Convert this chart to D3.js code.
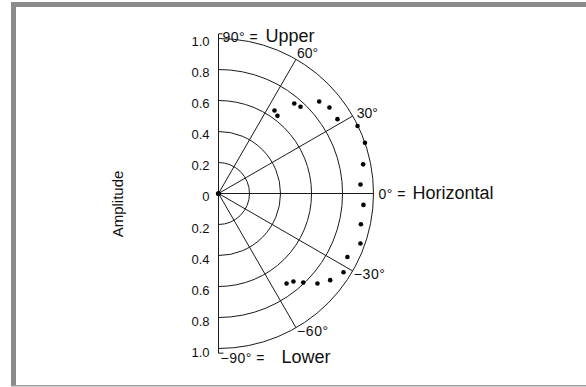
<!DOCTYPE html>
<html>
<head>
<meta charset="utf-8">
<script src="https://cdn.jsdelivr.net/npm/d3@7"></script>
<style>
  body { margin: 0; background: #fff; }
  svg { display: block; font-family: "Liberation Sans", Arial, sans-serif; }
</style>
</head>
<body>
<svg id="chart"></svg>
<script>
// measured directions (deg, +up / -down) and amplitude of each sample
const angleDeg  = [56.0, 52.8, 49.9, 46.6, 42.4, 37.8, 32.0, 25.9, 19.1, 11.4, 3.6,
                   -4.5, -12.2, -19.4, -26.2, -32.2, -37.8, -42.3, -46.4, -49.6, -52.9];
const amplitude = [0.646, 0.629, 0.759, 0.770, 0.880, 0.906, 0.905, 0.997, 1.0, 0.952, 0.918,
                   0.938, 0.940, 0.971, 0.927, 0.953, 0.912, 0.863, 0.793, 0.746, 0.728];

const ringValues = [0.2, 0.4, 0.6, 0.8, 1.0];
const tickValues = [0, 0.2, 0.4, 0.6, 0.8, 1.0];
const tickLabels = ["0", "0.2", "0.4", "0.6", "0.8", "1.0"];
const spokeAngles = [60, 30, -30, -60];
const spokeLabels = ["60°", "30°", "−30°", "−60°"];

const width = 586;
const height = 387;
const cx = 218.5, cy = 193.5;

const svg = d3.select('#chart')
    .attr('width', width)
    .attr('height', height);

// frame
svg.append('rect').attr('x', 11).attr('y', 2).attr('width', width - 11).attr('height', 5).attr('fill', '#8a8a8a');
svg.append('rect').attr('x', 11).attr('y', 2).attr('width', 5).attr('height', 384).attr('fill', '#8a8a8a');
svg.append('rect').attr('x', 11).attr('y', 385).attr('width', width - 11).attr('height', 1.5).attr('fill', '#9a9a9a');

let r = d3.scaleLinear().domain([0, 1]).range([0, 155]);
let rad = d => d * Math.PI / 180;
let px = (a, v) => cx + r(v) * Math.cos(rad(a));
let py = (a, v) => cy - r(v) * Math.sin(rad(a));

const g = svg.append('g')
    .attr('fill', 'none')
    .attr('stroke', '#1a1a1a')
    .attr('stroke-width', 1);

// rings
ringValues.forEach(v => {
    let p = d3.path();
    p.moveTo(cx, cy - r(v));
    p.arc(cx, cy, r(v), -Math.PI / 2, Math.PI / 2);
    g.append('path').attr('d', p.toString());
});

// spokes + horizontal axis
spokeAngles.concat([0]).forEach(a => {
    g.append('line')
        .attr('x1', cx).attr('y1', cy)
        .attr('x2', px(a, 1)).attr('y2', py(a, 1));
});

// vertical axis with small hooks
let axTop = cy - r(1.03), axBot = cy + r(1.03);
g.append('path').attr('d', `M${cx + 4},${axTop}H${cx}V${axBot}H${cx + 5}`);

// tick labels, both halves
const tickG = svg.append('g')
    .attr('font-size', 13)
    .attr('fill', '#111')
    .attr('text-anchor', 'end');
tickValues.forEach((v, i) => {
    tickG.append('text').attr('x', cx - 9).attr('y', cy - r(v) + 7).text(tickLabels[i]);
    if (v > 0) tickG.append('text').attr('x', cx - 9).attr('y', cy + r(v) + 8).text(tickLabels[i]);
});

// spoke labels
spokeAngles.forEach((a, i) => {
    let dx = a > 0 ? (a == 30 ? 4 : 1) : 1;
    let dy = a > 0 ? (a == 30 ? 2 : -1) : 8;
    svg.append('text')
        .attr('x', px(a, 1) + dx)
        .attr('y', py(a, 1) + dy)
        .attr('font-size', 14)
        .attr('fill', '#111')
        .attr('letter-spacing', a < 0 ? 0.6 : 0)
        .text(spokeLabels[i]);
});

// direction names: small "angle =" part then a larger word
function dirLabel(x, xBig, y, small, big) {
    svg.append('text').attr('x', x).attr('y', y).attr('fill', '#111')
        .attr('font-size', 14).attr('letter-spacing', 0.5).text(small);
    svg.append('text').attr('x', xBig).attr('y', y).attr('fill', '#111')
        .attr('font-size', 18).text(big);
}
dirLabel(cx + 4, cx + 47, cy - r(1) + 3, "90° =", "Upper");
dirLabel(px(0, 1) + 5, px(0, 1) + 39, cy + 5, "0° =", "Horizontal");
dirLabel(cx + 2, cx + 63, cy + r(1) + 14, "−90° =", "Lower");

// axis title
svg.append('text')
    .attr('transform', `translate(123,204) rotate(-90)`)
    .attr('text-anchor', 'middle')
    .attr('font-size', 15)
    .attr('fill', '#111')
    .text('Amplitude');

// origin and samples
svg.append('circle').attr('cx', cx).attr('cy', cy).attr('r', 2.6).attr('fill', '#000');

let pts = angleDeg.map((a, i) => ({ a: a, v: amplitude[i] }));
svg.selectAll('circle.pt')
    .data(pts)
    .enter().append('circle')
    .attr('class', 'pt')
    .attr('cx', d => px(d.a, d.v))
    .attr('cy', d => py(d.a, d.v))
    .attr('r', 2.3)
    .attr('fill', '#000');
</script>
</body>
</html>
